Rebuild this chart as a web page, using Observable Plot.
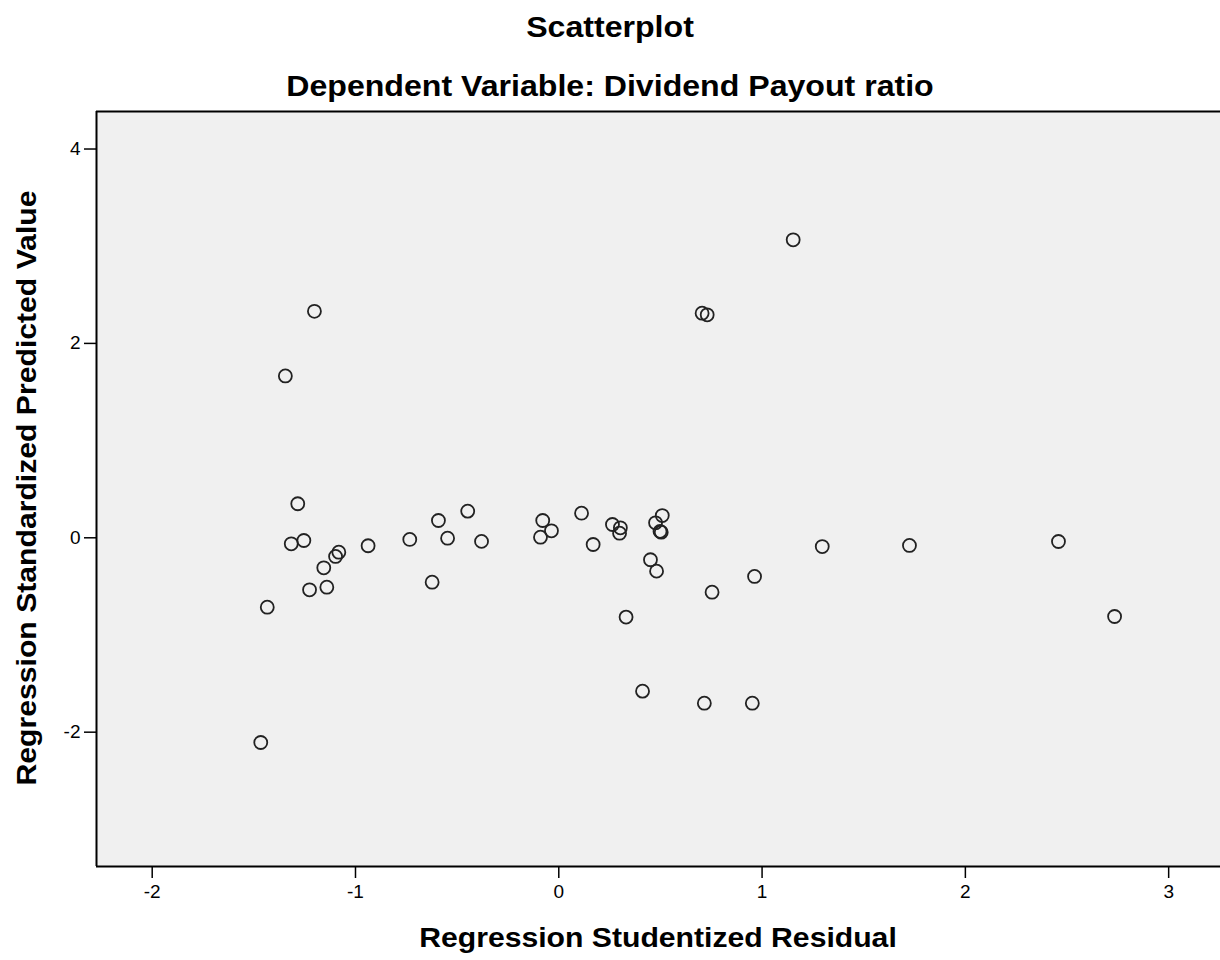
<!DOCTYPE html>
<html>
<head>
<meta charset="utf-8">
<script src="https://cdn.jsdelivr.net/npm/d3@7"></script>
<script src="https://cdn.jsdelivr.net/npm/@observablehq/plot@0.6"></script>
<style>
  body { margin: 0; background: #fff; font-family: "Liberation Sans", Arial, sans-serif; }
  #wrap { position: relative; width: 1220px; height: 960px; overflow: hidden; }
  .t { position: absolute; font-weight: bold; color: #000; white-space: nowrap; }
</style>
</head>
<body>
<div id="wrap">
  <div class="t" id="title" style="left:0;width:1220px;text-align:center;top:10px;font-size:30px;transform:scaleX(1.07);">Scatterplot</div>
  <div class="t" id="subtitle" style="left:0;width:1220px;text-align:center;top:69px;font-size:30px;transform:scaleX(1.07);">Dependent Variable: Dividend Payout ratio</div>
  <div class="t" id="xtitle" style="left:96px;width:1124px;text-align:center;top:922px;font-size:28px;transform:scaleX(1.077);">Regression Studentized Residual</div>
  <div class="t" id="ytitle" style="left:27px;top:488px;font-size:28px;transform:translate(-50%,-50%) rotate(-90deg) scaleX(1.077);">Regression Standardized Predicted Value</div>
</div>
<script>
// Regression Studentized Residual (x)
const residual = [
  -1.202, -1.345, -1.284, -1.316, -1.254, -1.082, -1.098, -1.156, -1.226, -1.141,
  -1.434, -1.466, -0.938, -0.733, -0.592, -0.547, -0.623, -0.448, -0.380, -0.079,
  -0.036, -0.090, 0.112, 0.169, 0.264, 0.303, 0.299, 0.476, 0.509, 0.504,
  0.498, 0.451, 0.481, 0.331, 0.754, 0.963, 1.296, 1.725, 2.458, 2.734,
  1.153, 0.705, 0.730, 0.412, 0.716, 0.952
];
// Regression Standardized Predicted Value (y)
const predicted = [
  2.330, 1.665, 0.350, -0.062, -0.028, -0.148, -0.192, -0.309, -0.535, -0.508,
  -0.714, -2.106, -0.082, -0.017, 0.178, -0.004, -0.457, 0.274, -0.037, 0.178,
  0.072, 0.006, 0.253, -0.069, 0.137, 0.103, 0.047, 0.154, 0.229, 0.058,
  0.066, -0.226, -0.343, -0.816, -0.560, -0.398, -0.090, -0.079, -0.038, -0.810,
  3.066, 2.311, 2.294, -1.578, -1.702, -1.702
];
const xTicks = [-2, -1, 0, 1, 2, 3];
const yTicks = [-2, 0, 2, 4];
const xDomain = [-2.274, 3.255];
const yDomain = [-3.382, 4.386];

const data = residual.map((x, i) => ({x, y: predicted[i]}));
const fmt = d => String(d);

const chart = Plot.plot({
  width: 1220,
  height: 960,
  marginLeft: 96,
  marginRight: 0,
  marginTop: 111,
  marginBottom: 94,
  style: {fontFamily: "'Liberation Sans', Arial, sans-serif", fontSize: "19px", background: "transparent", color: "#000"},
  x: {domain: xDomain, ticks: xTicks, tickFormat: fmt},
  y: {domain: yDomain, ticks: yTicks, tickFormat: fmt},
  marks: [
    Plot.frame({fill: "#f0f0f0", stroke: null}),
    Plot.dot(data, {x: "x", y: "y", r: 6.5, stroke: "#222", strokeWidth: 1.8, fill: "none"}),
    Plot.ruleY(yDomain, {stroke: "#000", strokeWidth: 2}),
    Plot.ruleX([xDomain[0]], {stroke: "#000", strokeWidth: 2}),
    Plot.axisX({ticks: xTicks, tickFormat: fmt, tickSize: 12, tickPadding: 6, fontSize: 19, label: null, stroke: "#000", strokeWidth: 1.5}),
    Plot.axisY({ticks: yTicks, tickFormat: fmt, tickSize: 12, tickPadding: 4, fontSize: 19, label: null, stroke: "#000", strokeWidth: 1.5})
  ]
});
chart.style.position = "absolute";
chart.style.left = "0";
chart.style.top = "0";
document.getElementById("wrap").prepend(chart);
</script>
</body>
</html>
